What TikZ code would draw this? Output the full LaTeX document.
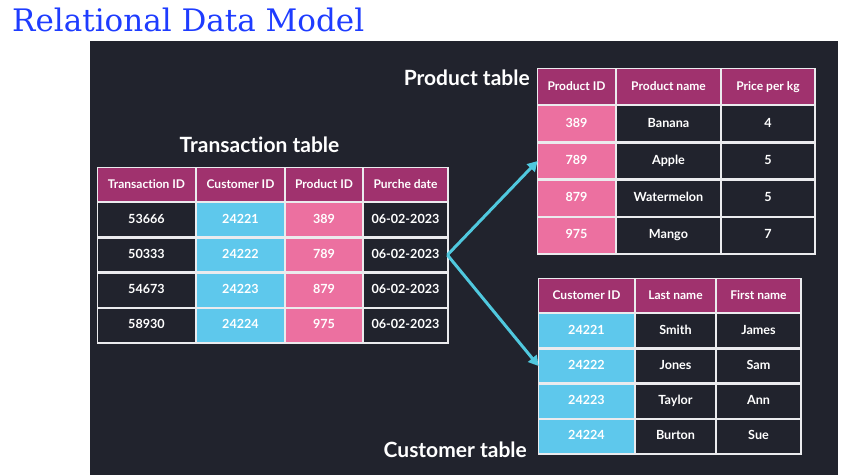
\documentclass[tikz,border=0pt]{standalone}
\usepackage{fontspec}
\setsansfont{Lato}[Ligatures=NoCommon]
\newfontfamily\titlefont{DejaVu Serif}
\usepackage{tikz}
\usetikzlibrary{arrows.meta, positioning, matrix}
\definecolor{canvas}{RGB}{33,35,45}
\definecolor{headcol}{RGB}{160,50,110}
\definecolor{prodpink}{RGB}{236,112,160}
\definecolor{custcyan}{RGB}{94,200,236}
\definecolor{linkcyan}{RGB}{80,200,222}
\definecolor{titleblue}{RGB}{30,60,255}
\definecolor{gridline}{RGB}{235,235,238}
\tikzset{
  datatable/.style={
    matrix of nodes, column sep=0pt, row sep=0pt,
    inner sep=0pt, outer sep=0pt,
    draw=gridline, line width=1pt,
    nodes={
      draw=gridline, line width=1.2pt, fill=canvas, text=white,
      anchor=center, inner sep=0pt, outer sep=0pt,
      font=\sffamily\bfseries\fontsize{12.6}{14}\selectfont,
      text height=9pt, text depth=2pt, minimum height=34pt
    },
    row 1/.style={nodes={fill=headcol,
      font=\sffamily\bfseries\fontsize{12}{14}\selectfont}}
  },
  keycyan/.style={nodes={fill=custcyan}},
  keypink/.style={nodes={fill=prodpink}},
  tablelabel/.style={
    font=\sffamily\bfseries\fontsize{21}{24}\selectfont,
    text=white, inner sep=0pt
  },
  linkarrow/.style={
    -{Triangle[length=10pt,width=11pt]}, line width=3pt, draw=linkcyan
  },
}

\begin{document}
\begin{tikzpicture}[x=1pt, y=-1pt]
  \useasboundingbox (0,0) rectangle (852,475);

  % Title and dark panel
  \node[font=\titlefont\fontsize{31}{35}\selectfont, text=titleblue,
    anchor=base west, inner sep=0pt] (title) at (12,31) {Relational Data Model};
  \fill[canvas] (90,41) rectangle (838,475);

  % Transaction table
  \matrix[datatable, anchor=north west,
    column 1/.style={nodes={minimum width=97.8pt}},
    column 2/.style={keycyan, nodes={minimum width=87.8pt}},
    column 3/.style={keypink, nodes={minimum width=76.8pt}},
    column 4/.style={nodes={minimum width=83.8pt}}] (trans) at (97,167) {
    Transaction ID & Customer ID & Product ID & Purche date \\
    53666 & 24221 & 389 & 06-02-2023 \\
    50333 & 24222 & 789 & 06-02-2023 \\
    54673 & 24223 & 879 & 06-02-2023 \\
    58930 & 24224 & 975 & 06-02-2023 \\
  };
  \node[tablelabel, above=14pt of trans.north, xshift=-13pt] (translabel)
    {Transaction table};

  % Product table
  \matrix[datatable, anchor=north west, nodes={minimum height=36pt},
    column 1/.style={keypink, nodes={minimum width=77.8pt}},
    column 2/.style={nodes={minimum width=103.8pt}},
    column 3/.style={nodes={minimum width=92.8pt}}] (prod) at (537,68) {
    Product ID & Product name & Price per kg \\
    389 & Banana & 4 \\
    789 & Apple & 5 \\
    879 & Watermelon & 5 \\
    975 & Mango & 7 \\
  };
  \node[tablelabel, anchor=east] (prodlabel) at ([shift={(-7,10)}]prod.north west)
    {Product table};

  % Customer table
  \matrix[datatable, anchor=north west,
    column 1/.style={keycyan, nodes={minimum width=95.8pt}},
    column 2/.style={nodes={minimum width=79.8pt}},
    column 3/.style={nodes={minimum width=83.8pt}}] (cust) at (538,278) {
    Customer ID & Last name & First name \\
    24221 & Smith & James \\
    24222 & Jones & Sam \\
    24223 & Taylor & Ann \\
    24224 & Burton & Sue \\
  };
  \node[tablelabel, anchor=base east] (custlabel) at ([shift={(-11,3)}]cust.south west)
    {Customer table};

  % Key links
  \draw[linkarrow] (trans-3-4.east) -- (prod-3-1.west);
  \draw[linkarrow] (trans-3-4.east) -- (cust-3-1.west);
\end{tikzpicture}
\end{document}
